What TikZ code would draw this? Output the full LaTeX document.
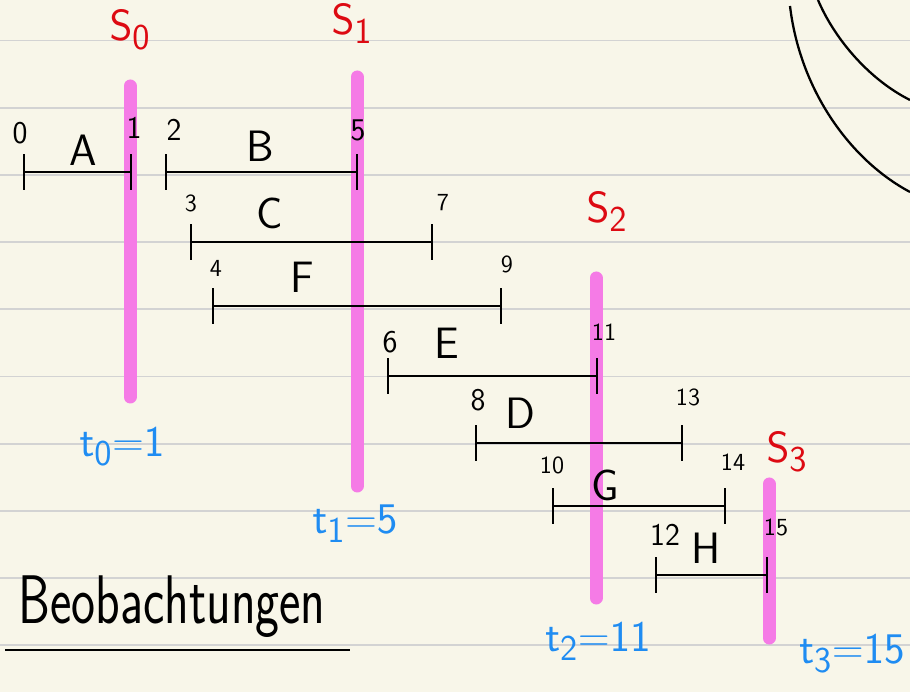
\documentclass[tikz,border=0pt]{standalone}
\usepackage{tikz}
\usetikzlibrary{arrows.meta}
\definecolor{paperc}{HTML}{F8F6E9}
\definecolor{rulec}{HTML}{D3D3D3}
\definecolor{markc}{HTML}{F57BE6}
\definecolor{redc}{HTML}{DD0A12}
\definecolor{bluec}{HTML}{1F8CF2}
\tikzset{
  rul/.style={rulec, line width=1.1pt},
  sbar/.style={markc, line width=7.4pt, line cap=round},
  iv/.style={{Bar[width=20pt]}-{Bar[width=20pt]}, line width=1.3pt},
  lbl/.style={inner sep=0pt, font=\sffamily\fontsize{25}{25}\selectfont},
  nbig/.style={inner sep=0pt, font=\sffamily\fontsize{18}{18}\selectfont},
  nsm/.style={inner sep=0pt, font=\sffamily\fontsize{14}{14}\selectfont},
  snap/.style={inner sep=0pt, text=redc, font=\fontsize{32}{32}\selectfont},
  tval/.style={inner sep=0pt, text=bluec, font=\fontsize{32}{32}\selectfont},
}

\begin{document}
\begin{tikzpicture}[x=0.02cm, y=-0.02cm]
% paper
\fill[paperc] (0,0) rectangle (910,692);
\useasboundingbox (0,0) rectangle (910,692);
\foreach \ry in {40.5,107.7,174.9,242.1,309.3,376.5,443.7,510.9,578.1,645.3}
  \draw[rul] (0,\ry) -- (910,\ry);

% snapshot bars
\draw[sbar] (130,86) -- (130,397);
\draw[sbar] (357,77) -- (357,486);
\draw[sbar] (596,278) -- (596,598);
\draw[sbar] (769,484) -- (769,638);

% intervals
\coordinate (A1) at (23,172);  \coordinate (A2) at (132,172);
\coordinate (B1) at (165,172); \coordinate (B2) at (358,172);
\coordinate (C1) at (190,242); \coordinate (C2) at (433,242);
\coordinate (F1) at (212,306); \coordinate (F2) at (502,306);
\coordinate (E1) at (387,376); \coordinate (E2) at (598,376);
\coordinate (D1) at (475,443); \coordinate (D2) at (683,443);
\coordinate (G1) at (552,506); \coordinate (G2) at (726,506);
\coordinate (H1) at (655,575); \coordinate (H2) at (768,575);
\draw[iv] (A1) -- (A2); \draw[iv] (B1) -- (B2);
\draw[iv] (C1) -- (C2); \draw[iv] (F1) -- (F2);
\draw[iv] (E1) -- (E2); \draw[iv] (D1) -- (D2);
\draw[iv] (G1) -- (G2); \draw[iv] (H1) -- (H2);

% interval names
\node[lbl] (nA) at (83,150) {A};
\node[lbl] (nB) at (260,146) {B};
\node[lbl] (nC) at (270,213) {C};
\node[lbl] (nF) at (302,277) {F};
\node[lbl] (nE) at (447,343) {E};
\node[lbl] (nD) at (520,413) {D};
\node[lbl] (nG) at (605,485) {G};
\node[lbl] (nH) at (706,548) {H};

% times
\node[nbig] (t0) at (20,133) {0};
\node[nbig] (t1) at (134,128) {1};
\node[nbig] (t2) at (174,130) {2};
\node[nbig] (t5) at (358,130) {5};
\node[nsm] (t3) at (191,203) {3};
\node[nsm] (t7) at (443,203) {7};
\node[nsm] (t4) at (216,268) {4};
\node[nsm] (t9) at (507,264) {9};
\node[nbig] (t6) at (390,342) {6};
\node[nsm] (t11) at (604,332) {11};
\node[nbig] (t8) at (478,400) {8};
\node[nsm] (t13) at (688,397) {13};
\node[nsm] (t10) at (552,465) {10};
\node[nsm] (t14) at (733,462) {14};
\node[nbig] (t12) at (665,535) {12};
\node[nsm] (t15) at (776,527) {15};

% snapshots
\node[snap] (s0) at (130,30) {$\mathsf{S}_{\mathsf{0}}$};
\node[snap] (s1) at (352,24) {$\mathsf{S}_{\mathsf{1}}$};
\node[snap] (s2) at (607,212) {$\mathsf{S}_{\mathsf{2}}$};
\node[snap] (s3) at (787,452) {$\mathsf{S}_{\mathsf{3}}$};
\node[tval] (v0) at (122,447) {$\mathsf{t}_{\mathsf{0}}\mathsf{{=}1}$};
\node[tval] (v1) at (355,524) {$\mathsf{t}_{\mathsf{1}}\mathsf{{=}5}$};
\node[tval] (v2) at (598,642) {$\mathsf{t}_{\mathsf{2}}\mathsf{{=}11}$};
\node[tval] (v3) at (852,654) {$\mathsf{t}_{\mathsf{3}}\mathsf{{=}15}$};

% title
\node[inner sep=0pt, font=\sffamily\fontsize{29}{29}\selectfont] (title) at (172,607)
  {\scalebox{1}[1.35]{Beobachtungen}};
\draw[line width=1.7pt] (5,650) -- (350,650);

% arcs top right
\draw[line width=1.3pt] (790,6) .. controls (800,90) and (850,160) .. (910,192);
\draw[line width=1.3pt] (818,0) .. controls (835,40) and (870,80) .. (910,100);
\end{tikzpicture}
\end{document}
